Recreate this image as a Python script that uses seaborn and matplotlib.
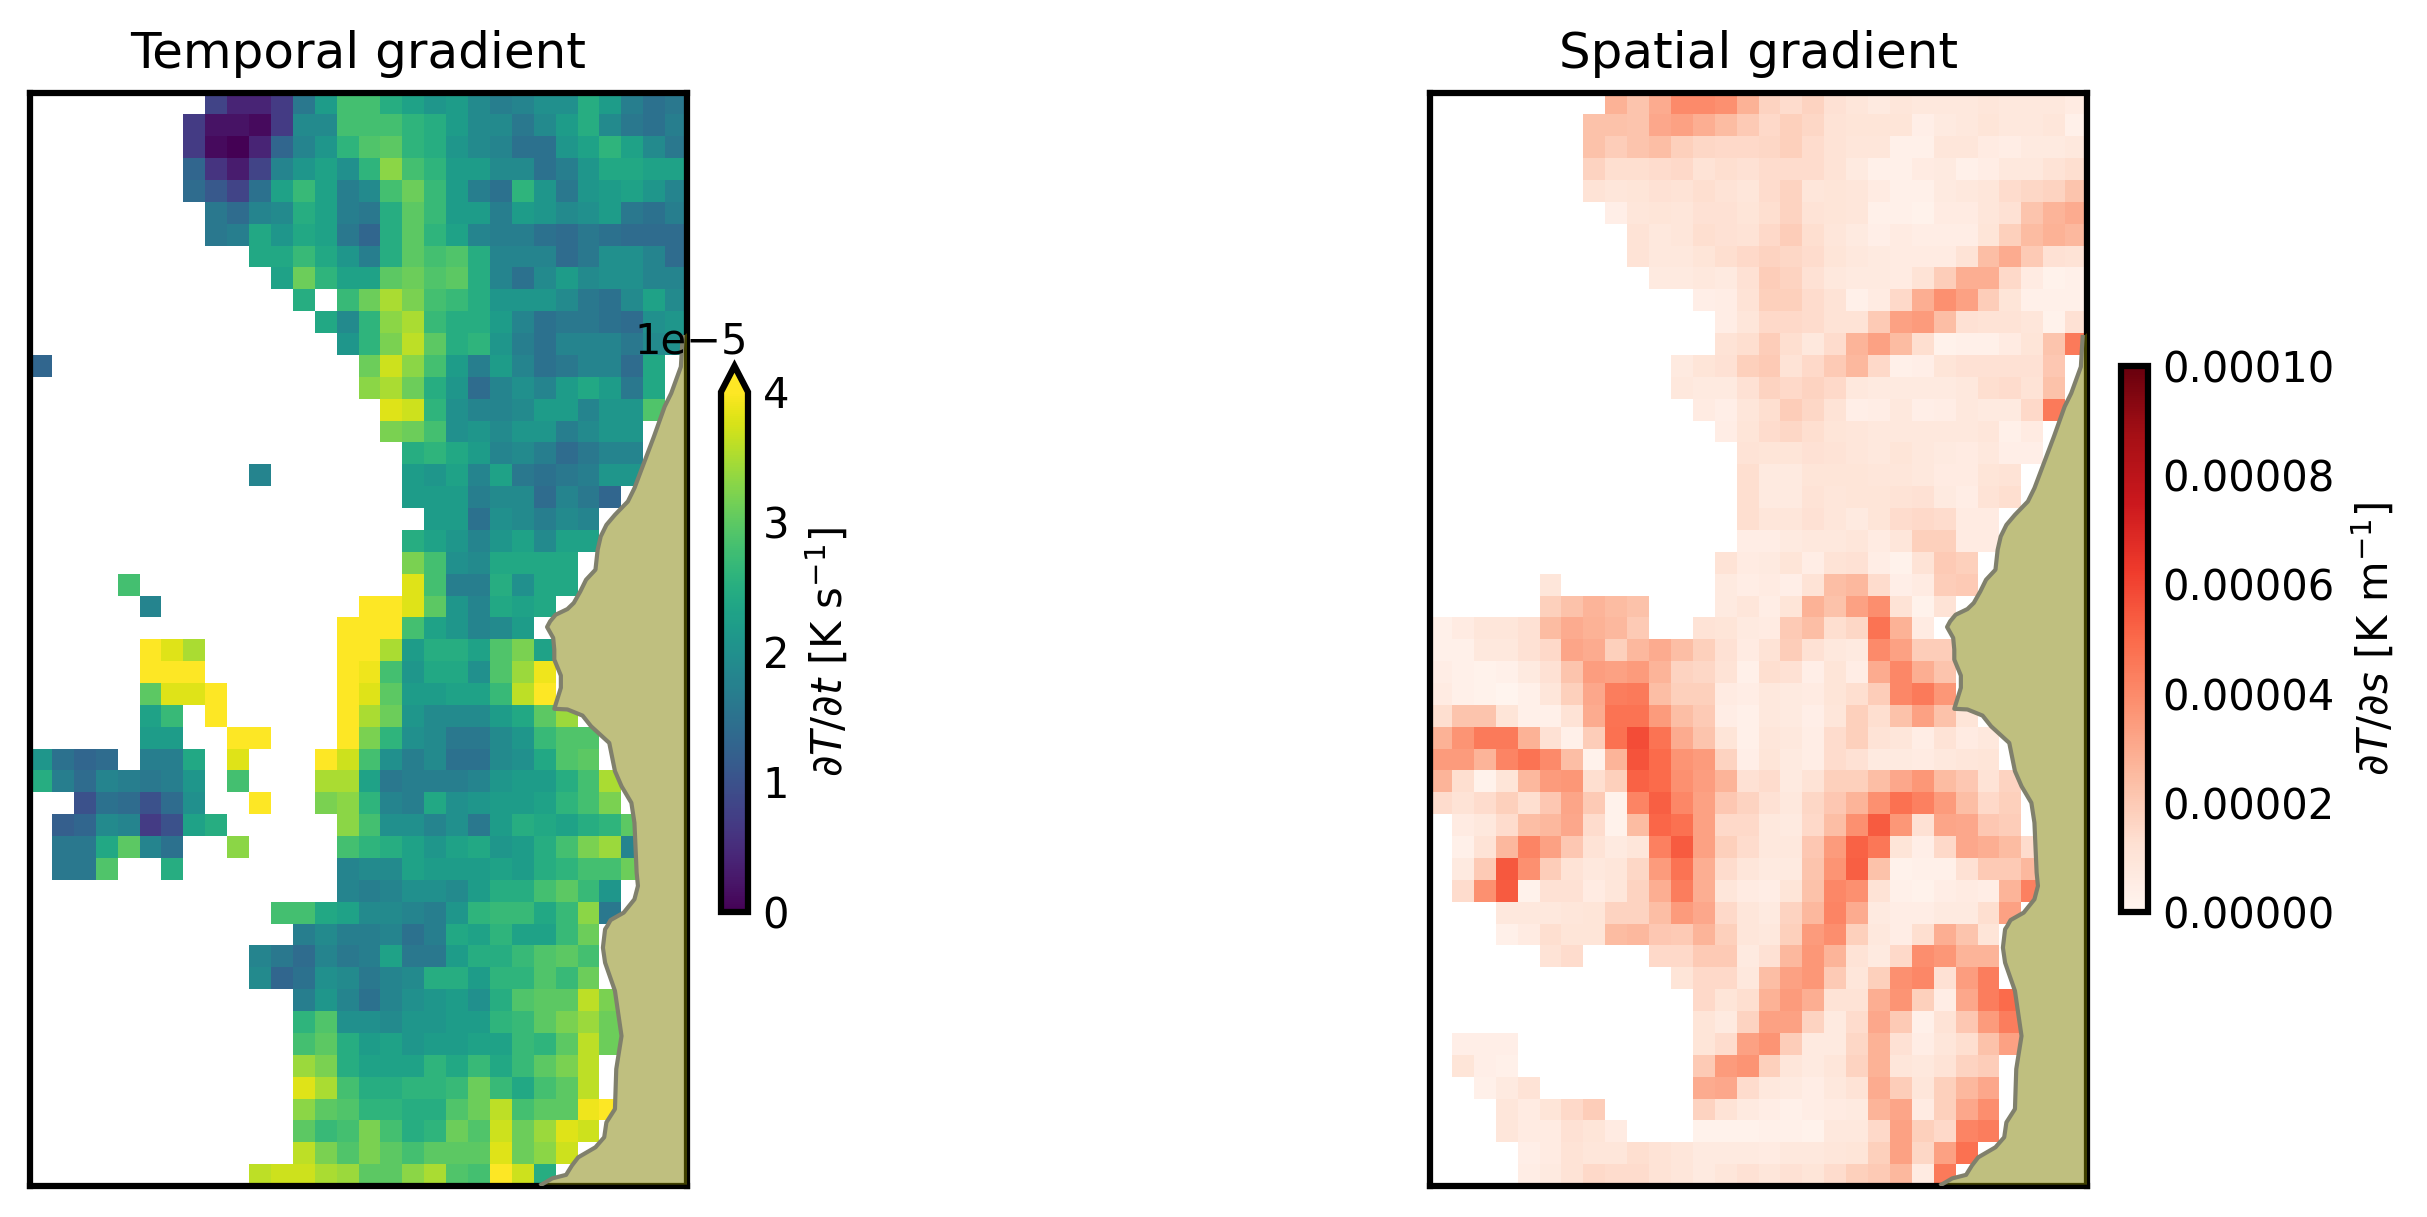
import numpy as np
import seaborn as sns
import matplotlib
matplotlib.use("Agg")
import matplotlib.pyplot as plt
from matplotlib.patches import Polygon

_ = np.nan

# dT/dt, units of 1e-6 K/s: (first column, values), one entry per row
temporal_rows = [
    (8, [8, 4, 4, 7, 16, 22, 28, 28, 25, 23, 21, 22, 19, 17, 18, 20, 20, 25, 22, 17, 15, 16]),
    (7, [7, 2, 2, 1, 7, 19, 19, 28, 28, 28, 26, 25, 22, 19, 19, 16, 19, 22, 25, 19, 16, 15, 17]),
    (7, [7, 1, 0, 4, 13, 18, 21, 26, 29, 30, 26, 25, 21, 19, 18, 15, 15, 21, 23, 26, 23, 19, 16]),
    (7, [13, 6, 3, 8, 18, 21, 23, 20, 26, 33, 28, 26, 22, 22, 19, 19, 15, 17, 21, 24, 24, 23, 23]),
    (7, [14, 11, 8, 15, 23, 27, 23, 17, 19, 28, 31, 27, 22, 17, 15, 26, 21, 16, 21, 22, 23, 21, 18]),
    (8, [16, 14, 18, 19, 25, 23, 17, 16, 25, 30, 27, 22, 22, 17, 22, 21, 19, 20, 22, 16, 15, 17]),
    (8, [16, 17, 24, 21, 24, 23, 16, 13, 25, 30, 26, 23, 18, 17, 17, 15, 14, 16, 15, 14, 14, 14]),
    (10, [24, 24, 27, 24, 21, 17, 25, 30, 28, 29, 25, 18, 18, 18, 14, 16, 20, 20, 18, 14]),
    (11, [23, 31, 26, 23, 23, 30, 31, 29, 30, 25, 18, 15, 19, 22, 19, 20, 20, 18, 18]),
    (12, [25, _, 27, 31, 35, 32, 28, 27, 25, 21, 21, 21, 19, 16, 15, 19, 23, 19]),
    (13, [24, 19, 26, 33, 35, 27, 25, 25, 22, 18, 15, 16, 16, 15, 14, 20, 21]),
    (14, [21, 26, 32, 36, 30, 25, 26, 21, 17, 15, 18, 18, 18, 16, 19, 20]),
    (0, [13] + [_] * 14 + [31, 37, 33, 28, 22, 17, 22, 18, 15, 16, 18, 18, 14, 24]),
    (15, [33, 35, 31, 25, 21, 14, 18, 20, 18, 22, 24, 22, 16, 24]),
    (16, [38, 37, 26, 20, 18, 18, 19, 22, 22, 18, 21, 21, 29]),
    (16, [32, 31, 28, 20, 21, 19, 21, 21, 17, 19, 21, 21]),
    (17, [25, 26, 24, 22, 18, 19, 17, 14, 16, 18, 18]),
    (10, [18] + [_] * 6 + [22, 21, 23, 18, 23, 16, 15, 16, 17, 21, 21]),
    (17, [22, 22, 22, 17, 19, 19, 14, 18, 16, 13]),
    (18, [22, 22, 15, 20, 19, 17, 19, 18]),
    (17, [25, 23, 21, 18, 21, 23, 19, 23, 23]),
    (17, [32, 28, 20, 19, 24, 24, 24, 24]),
    (4, [28] + [_] * 12 + [38, 28, 17, 17, 25, 20, 24, 24]),
    (5, [18] + [_] * 9 + [40, 40, 38, 30, 21, 18, 24, 23, 24]),
    (14, [40, 40, 40, 28, 23, 21, 18, 19, 22]),
    (5, [40, 38, 35] + [_] * 6 + [40, 40, 35, 22, 25, 25, 23, 29, 32, 23]),
    (5, [40, 40, 40] + [_] * 6 + [40, 39, 28, 21, 24, 24, 20, 29, 34, 39]),
    (5, [30, 38, 38, 40] + [_] * 5 + [40, 38, 30, 22, 22, 23, 23, 27, 36, 40]),
    (5, [23, 27, _, 40] + [_] * 5 + [40, 35, 31, 21, 19, 19, 19, 22, 24, 30, 34]),
    (5, [22, 22, _, _, 40, 40, _, _, _, 40, 32, 26, 20, 19, 16, 16, 19, 21, 27, 29, 29]),
    (0, [21, 15, 13, 14, _, 17, 17, 24, _, 38, _, _, _, 40, 37, 28, 20, 17, 19, 15, 15, 19, 20, 24, 29, 30]),
    (0, [25, 17, 14, 18, 17, 16, 17, 21, _, 28, _, _, _, 35, 35, 23, 16, 17, 17, 17, 18, 21, 22, 22, 25, 28, 35]),
    (2, [10, 15, 14, 10, 14, 20, _, _, 40, _, _, 32, 33, 26, 18, 17, 24, 20, 21, 22, 22, 23, 26, 28, 32]),
    (1, [12, 13, 19, 18, 7, 10, 23, 25] + [_] * 5 + [33, 28, 20, 20, 18, 20, 16, 22, 25, 24, 23, 25, 26, 30]),
    (1, [16, 16, 24, 30, 18, 15, _, _, 33, _, _, _, _, 28, 26, 25, 23, 21, 23, 24, 21, 22, 25, 28, 32, 34, 18]),
    (1, [16, 16, 29, _, _, 25] + [_] * 7 + [18, 19, 19, 23, 22, 22, 22, 23, 22, 25, 26, 28, 28, 31]),
    (14, [18, 17, 18, 20, 20, 19, 22, 25, 25, 28, 30, 27, 21]),
    (11, [28, 28, 24, 23, 19, 19, 18, 17, 21, 26, 27, 27, 24, 27, 33, 16]),
    (12, [17, 19, 17, 17, 18, 15, 17, 24, 23, 26, 23, 23, 27, 31]),
    (10, [18, 16, 14, 18, 16, 17, 23, 16, 16, 22, 25, 25, 27, 29, 30, 28]),
    (10, [19, 13, 15, 20, 19, 16, 18, 19, 25, 25, 22, 26, 26, 29, 27, 31]),
    (12, [17, 21, 18, 15, 18, 20, 21, 22, 20, 25, 29, 30, 30, 36, 32]),
    (12, [26, 29, 20, 20, 19, 21, 21, 22, 22, 26, 27, 30, 32, 34, 31]),
    (12, [28, 30, 25, 22, 23, 21, 22, 22, 23, 23, 27, 26, 30, 36, 31]),
    (12, [34, 32, 25, 23, 23, 23, 26, 24, 27, 24, 27, 30, 32, 36]),
    (12, [38, 35, 28, 25, 25, 26, 26, 27, 31, 27, 24, 28, 30, 36]),
    (12, [33, 30, 29, 26, 26, 25, 25, 29, 31, 36, 28, 30, 30, 39, 40]),
    (12, [30, 27, 28, 32, 28, 25, 26, 31, 29, 37, 31, 34, 38, 37]),
    (12, [36, 32, 29, 32, 30, 28, 30, 30, 30, 38, 31, 33, 37]),
    (10, [36, 37, 37, 35, 34, 30, 30, 33, 35, 29, 28, 40, 37, 25]),
]

# dT/ds, units of 1e-6 K/m
spatial_rows = [
    (8, [28, 22, 30, 40, 40, 38, 28, 17, 14, 17, 12, 9, 7, 9, 8, 8, 8, 9, 8, 8, 8, 6]),
    (7, [23, 23, 22, 31, 33, 29, 25, 20, 15, 18, 16, 11, 10, 10, 10, 4, 7, 8, 10, 8, 8, 9, 3]),
    (7, [23, 19, 22, 24, 18, 16, 15, 15, 16, 18, 14, 11, 9, 9, 3, 3, 9, 9, 6, 5, 7, 7, 8]),
    (7, [17, 13, 13, 14, 15, 11, 13, 12, 14, 14, 14, 11, 7, 3, 3, 6, 7, 3, 5, 8, 8, 11, 13]),
    (7, [11, 9, 10, 12, 11, 13, 11, 9, 14, 17, 9, 10, 9, 6, 3, 3, 7, 8, 9, 14, 16, 17, 22]),
    (8, [4, 9, 10, 9, 12, 12, 10, 13, 17, 11, 10, 9, 3, 3, 2, 6, 6, 9, 12, 22, 27, 30]),
    (9, [11, 8, 9, 13, 12, 11, 15, 19, 13, 9, 7, 4, 6, 5, 5, 5, 10, 18, 25, 28, 26]),
    (9, [11, 8, 8, 10, 13, 15, 17, 16, 14, 10, 8, 7, 6, 6, 6, 11, 24, 30, 20, 12, 11]),
    (10, [7, 7, 8, 7, 12, 19, 17, 12, 8, 7, 7, 6, 11, 19, 29, 29, 15, 6, 2, 3]),
    (12, [4, 5, 11, 18, 18, 14, 11, 3, 6, 15, 29, 38, 33, 19, 10, 3, 3, 3]),
    (13, [5, 9, 15, 15, 14, 11, 11, 20, 33, 35, 24, 12, 11, 11, 9, 2, 12]),
    (13, [11, 13, 19, 13, 8, 14, 27, 33, 25, 13, 2, 3, 3, 6, 10, 22, 45]),
    (11, [7, 10, 12, 18, 20, 11, 15, 20, 26, 15, 3, 4, 10, 12, 12, 12, 12, 21]),
    (11, [8, 7, 7, 12, 17, 15, 17, 15, 8, 7, 7, 7, 7, 8, 13, 14, 11, 23]),
    (12, [6, 4, 9, 13, 19, 16, 11, 4, 5, 8, 4, 5, 8, 7, 7, 15, 45]),
    (13, [5, 10, 14, 16, 13, 10, 9, 8, 8, 8, 8, 8, 9, 3, 6]),
    (14, [11, 10, 10, 12, 11, 9, 8, 10, 8, 7, 6, 8, 4, 4]),
    (14, [13, 7, 7, 10, 10, 10, 9, 9, 8, 6, 6, 10, 11]),
    (14, [13, 7, 7, 11, 9, 10, 10, 11, 12, 7, 5, 11, 13]),
    (14, [13, 9, 9, 12, 9, 7, 10, 14, 15, 14, 6, 6]),
    (14, [5, 5, 7, 8, 8, 9, 6, 9, 18, 18, 6, 6]),
    (13, [11, 6, 7, 10, 5, 11, 12, 5, 2, 11, 20, 18]),
    (5, [9] + [_] * 7 + [7, 5, 6, 4, 11, 24, 26, 14, 4, 6, 19, 20]),
    (5, [18, 23, 27, 25, 23, _, _, _, 7, 9, 5, 10, 28, 23, 33, 39, 11, 2, 11]),
    (0, [3, 6, 9, 9, 12, 25, 30, 28, 26, 20, _, _, 11, 10, 7, 6, 20, 24, 13, 16, 47, 28, 6]),
    (0, [3, 3, 8, 8, 12, 15, 32, 30, 18, 26, 30, 24, 18, 12, 6, 11, 19, 12, 8, 7, 40, 33, 19, 19]),
    (0, [5, 3, 2, 3, 7, 12, 22, 34, 33, 35, 27, 17, 16, 11, 3, 13, 12, 4, 10, 5, 30, 41, 29, 22]),
    (0, [6, 3, 2, 1, 3, 9, 18, 31, 44, 45, 24, 18, 18, 6, 5, 8, 7, 6, 10, 13, 19, 41, 45, 36]),
    (0, [13, 22, 22, 10, 3, 3, 11, 30, 47, 47, 35, 24, 20, 5, 3, 8, 7, 4, 9, 18, 13, 23, 33, 23, 10]),
    (0, [28, 37, 45, 45, 28, 12, 3, 19, 48, 58, 47, 30, 22, 10, 3, 9, 8, 5, 14, 18, 11, 9, 5, 11, 6, 8]),
    (0, [35, 35, 27, 42, 47, 40, 24, 2, 27, 56, 50, 37, 35, 17, 4, 10, 7, 5, 14, 12, 7, 7, 6, 8, 9, 10]),
    (0, [27, 13, 2, 10, 26, 35, 36, 13, 18, 52, 50, 38, 34, 27, 12, 14, 7, 11, 18, 18, 24, 31, 36, 25, 21, 11, 17]),
    (0, [14, 11, 14, 18, 13, 21, 32, 20, 2, 42, 53, 41, 33, 21, 17, 12, 8, 16, 21, 27, 38, 48, 43, 35, 24, 15, 18]),
    (1, [6, 8, 14, 24, 26, 31, 14, 2, 25, 51, 48, 33, 15, 15, 8, 7, 15, 24, 38, 54, 36, 12, 32, 31, 21, 19]),
    (1, [3, 11, 26, 42, 33, 21, 11, 7, 9, 43, 54, 33, 18, 14, 8, 8, 21, 35, 52, 46, 10, 4, 15, 31, 29, 25, 14]),
    (1, [7, 20, 55, 38, 19, 11, 8, 9, 16, 35, 47, 29, 14, 9, 7, 7, 22, 37, 53, 23, 2, 3, 3, 12, 20, 20, 26]),
    (1, [14, 38, 54, 2, 12, 12, 6, 9, 17, 29, 44, 29, 9, 6, 5, 10, 23, 41, 38, 11, 3, 2, 5, 6, 5, 27, 43]),
    (3, [8, 8, 8, 9, 10, 17, 17, 24, 35, 31, 15, 9, 7, 17, 26, 42, 30, 7, 5, 5, 7, 7, 13, 33]),
    (3, [3, 6, 13, 10, 10, 25, 26, 21, 20, 27, 18, 9, 8, 18, 35, 39, 18, 8, 5, 13, 29, 22, 10]),
    (5, [11, 14, _, _, _, 15, 15, 20, 20, 7, 12, 26, 36, 27, 11, 7, 15, 39, 36, 27, 27]),
    (11, [10, 15, 15, 8, 24, 33, 36, 20, 9, 18, 38, 41, 12, 34, 44]),
    (12, [15, 10, 13, 28, 35, 29, 11, 11, 29, 37, 18, 5, 31, 44, 50]),
    (12, [10, 7, 17, 33, 33, 17, 7, 14, 31, 20, 3, 11, 21, 35, 44]),
    (1, [4, 4, 4] + [_] * 8 + [10, 14, 33, 37, 19, 7, 7, 16, 28, 12, 5, 9, 13, 23, 33]),
    (1, [10, 4, 3] + [_] * 8 + [20, 35, 37, 18, 9, 7, 9, 17, 28, 9, 8, 11, 17, 19]),
    (2, [3, 7, 11] + [_] * 7 + [30, 31, 14, 8, 7, 5, 8, 11, 30, 19, 9, 18, 26, 31]),
    (3, [9, 6, 10, 15, 19, _, _, _, _, 17, 11, 7, 5, 3, 5, 6, 7, 27, 32, 6, 18, 31, 39]),
    (3, [9, 6, 6, 12, 10, 6, _, _, _, 2, 2, 2, 3, 3, 2, 8, 8, 15, 33, 18, 15, 42, 44]),
    (4, [4, 6, 11, 9, 9, 13, 11, 9, 7, 7, 7, 6, 8, 8, 9, 10, 18, 33, 16, 33, 48]),
    (4, [5, 7, 11, 15, 14, 14, 11, 9, 7, 9, 12, 9, 12, 10, 14, 18, 20, 26, 6, 45]),
]

# coastline in grid cells (column, row)
coast_x = [30, 29.8, 29.72, 29.28, 28.98, 28.49, 28.0, 27.6, 27.3, 26.71, 26.32, 26.06, 25.92, 25.82,
           25.39, 25.13, 24.83, 24.54, 24.0, 23.75, 23.61, 23.89, 23.94, 23.94, 24.24, 24.24, 23.94,
           24.54, 25.23, 25.62, 26.45, 26.71, 27.01, 27.46, 27.6, 27.7, 27.76, 27.6, 27.11, 26.51,
           26.36, 26.26, 26.16, 26.26, 26.71, 27.01, 26.77, 26.71, 26.32, 26.22, 25.82, 25.03, 24.74,
           24.48, 23.85, 23.35, 30]
coast_y = [11.0, 11.18, 12.54, 13.75, 14.36, 15.73, 17.03, 18.09, 18.7, 19.31, 19.77, 20.3, 20.91, 21.82,
           22.28, 22.81, 23.34, 23.62, 23.88, 24.18, 24.44, 24.94, 25.47, 25.93, 26.66, 27.22, 28.18,
           28.21, 28.49, 28.98, 29.74, 31.03, 31.72, 32.48, 33.39, 35.67, 36.28, 36.89, 37.5, 37.84,
           38.11, 38.26, 39.1, 39.79, 41.08, 43.14, 44.65, 46.48, 47.09, 47.77, 48.23, 48.69, 49.07,
           49.49, 49.65, 49.94, 49.94]

titles = ["Temporal gradient", "Spatial gradient"]
cmaps = ["viridis", "Reds"]
vmaxs = [4e-5, 1e-4]
cbar_labels = [r"$\partial T / \partial t$ [K s$^{-1}$]", r"$\partial T / \partial s$ [K m$^{-1}$]"]
cbar_ticks = [[0, 1e-5, 2e-5, 3e-5, 4e-5], [0, 2e-5, 4e-5, 6e-5, 8e-5, 1e-4]]
extends = ["max", "neither"]


def to_grid(rows):
    grid = np.full((50, 30), np.nan)
    for i, (start, values) in enumerate(rows):
        grid[i, start:start + len(values)] = values
    return grid * 1e-6


W, H = 2427, 1217


def box(x0, x1, y0, y1):
    return [x0 / W, 1 - y1 / H, (x1 - x0) / W, (y1 - y0) / H]


plt.rcParams["font.size"] = 10
fig = plt.figure(figsize=(W / 300, H / 300), dpi=300)
coast = np.column_stack([coast_x, coast_y])

for i, rows in enumerate([temporal_rows, spatial_rows]):
    off = 1400 * i
    ax = fig.add_axes(box(30 + off, 687 + off, 92.5, 1186))
    cax = fig.add_axes(box(721 + off, 748 + off, 366, 912))
    sns.heatmap(to_grid(rows), ax=ax, cbar_ax=cax, cmap=cmaps[i], vmin=0, vmax=vmaxs[i],
                xticklabels=False, yticklabels=False,
                cbar_kws={"extend": extends[i], "ticks": cbar_ticks[i], "label": cbar_labels[i]})
    for spine in ax.spines.values():
        spine.set_visible(True)
        spine.set_linewidth(1.5)
    ax.tick_params(length=0)
    ax.set_title(titles[i], fontsize=12)
    # land hides the cells below it, the olive layer also tints the frame
    ax.add_patch(Polygon(coast, closed=True, facecolor="white", edgecolor="none", zorder=2))
    ax.add_patch(Polygon(coast, closed=True, facecolor="olive", edgecolor="none", alpha=0.5, zorder=3))
    ax.plot(coast_x[1:-1], coast_y[1:-1], color="#80806c", linewidth=1, zorder=3.5)
    cb = ax.collections[0].colorbar
    cb.outline.set_linewidth(1.5)
    cb.ax.tick_params(length=0, pad=3.5)

fig.savefig("out.png", dpi=300)
plt.close(fig)
